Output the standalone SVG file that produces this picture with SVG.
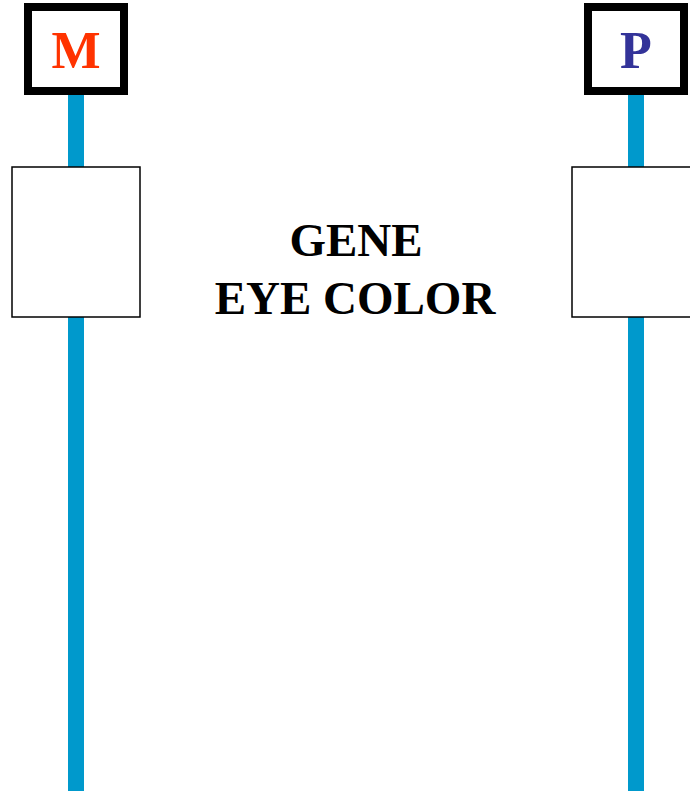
<svg xmlns="http://www.w3.org/2000/svg" width="690" height="793" viewBox="0 0 690 793">
<style>
.wire{stroke:#0099CC;stroke-width:16;fill:none}
.label{fill:none;stroke:#000;stroke-width:8}
.slot{fill:#fff;stroke:#000;stroke-width:1.5}
.t{font-family:"Liberation Serif","Times New Roman",serif;font-weight:bold;text-anchor:middle}
</style>
<rect width="690" height="793" fill="#fff"/>
<g id="connectors">
<line class="wire" x1="76" y1="95" x2="76" y2="791"/>
<line class="wire" x1="636" y1="95" x2="636" y2="791"/>
</g>
<g id="node-M">
<rect class="label" x="28" y="7" width="96" height="84" fill="#fff"/>
<text class="t" x="76" y="68" font-size="52" fill="#FF3300">M</text>
</g>
<g id="node-P">
<rect class="label" x="588" y="7" width="96" height="84" fill="#fff"/>
<text class="t" x="636" y="68" font-size="52" fill="#333399">P</text>
</g>
<g id="gene-left">
<rect class="slot" x="12" y="167" width="128" height="150"/>
</g>
<g id="gene-right">
<rect class="slot" x="572" y="167" width="130" height="150"/>
</g>
<g id="title">
<text class="t" x="356" y="256" font-size="47" fill="#000">GENE</text>
<text class="t" x="355" y="314" font-size="47" fill="#000">EYE COLOR</text>
</g>
</svg>
